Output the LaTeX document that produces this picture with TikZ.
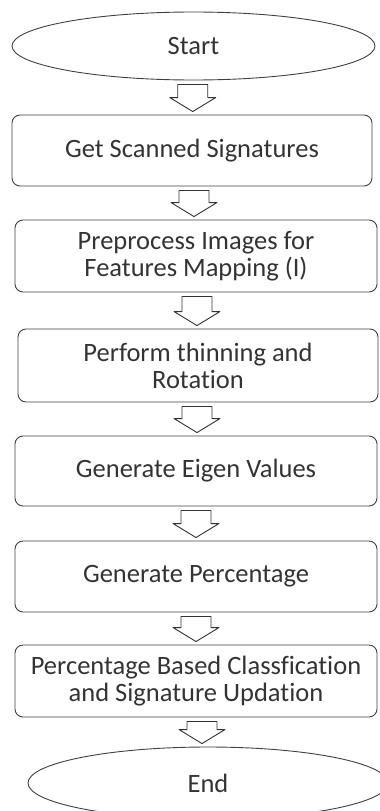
\documentclass[tikz,border=0pt]{standalone}
\usepackage{fontspec}
\setmainfont{Carlito}[Ligatures=NoCommon]
\usetikzlibrary{shapes.geometric,calc}

\begin{document}
\begin{tikzpicture}[x=1pt, y=1pt, line join=round,
  font=\fontsize{26.5}{27}\selectfont,
  terminal/.style={draw=black!75, line width=0.9pt, ellipse, inner sep=0pt, text=black!80},
  stepbox/.style={draw=black!75, line width=0.9pt, rounded corners=8pt, inner sep=0pt,
    align=center, text=black!80},
  blockarrow/.style={draw=black!80, line width=0.9pt, fill=white}]
  \useasboundingbox (0,0) rectangle (380,-811);
  \clip (0,0) rectangle (380,-811);

  % terminals and steps
  \node[terminal, minimum width=363, minimum height=68] (start) at (193.5,-46) {Start};
  \node[stepbox, minimum width=360, minimum height=71] (scan) at (192,-150.5) {Get Scanned Signatures};
  \node[stepbox, minimum width=362, minimum height=72] (prep) at (196,-256) {Preprocess Images for\\Features Mapping (I)};
  \node[stepbox, minimum width=360, minimum height=73] (thin) at (198,-365.5) {Perform thinning and\\Rotation};
  \node[stepbox, minimum width=362, minimum height=70] (eigen) at (196,-471) {Generate Eigen Values};
  \node[stepbox, minimum width=362, minimum height=71] (perc) at (196,-576.5) {Generate Percentage};
  \node[stepbox, minimum width=362, minimum height=72] (class) at (196,-681) {Percentage Based Classfication\\and Signature Updation};
  \node[terminal, minimum width=360, minimum height=72] (end) at (208,-783) {End};

  % block arrows
  \foreach \a/\b in {start/scan, scan/prep, prep/thin, thin/eigen, eigen/perc, perc/class, class/end} {
    \coordinate (mid) at ($(\a.south)!0.5!(\b.north)$);
    \coordinate (top) at ($(\a.south -| mid)+(0,-4)$);
    \coordinate (tip) at ($(\b.north -| mid)+(0,3)$);
    \draw[blockarrow] ($(top)+(-15,0)$) -- ($(top)+(15,0)$) -- ($(tip)+(15,14)$)
      -- ($(tip)+(23,14)$) -- (tip) -- ($(tip)+(-23,14)$) -- ($(tip)+(-15,14)$) -- cycle;
  }
\end{tikzpicture}
\end{document}
